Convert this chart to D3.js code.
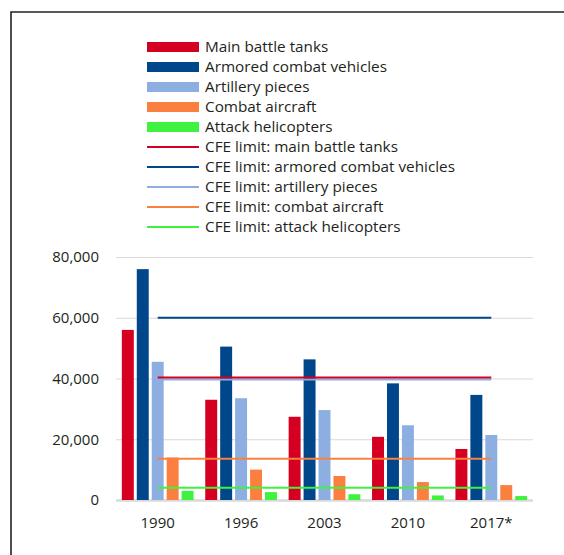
<!DOCTYPE html>
<html>
<head>
<meta charset="utf-8">
<script src="https://cdn.jsdelivr.net/npm/d3@7"></script>
<style>
  body { margin: 0; background: #fff; }
  text { font-family: "Open Sans", "Noto Sans", sans-serif; fill: #231f20; }
</style>
</head>
<body>
<div id="chart"></div>
<script>
  const years = ['1990', '1996', '2003', '2010', '2017*'];
  const seriesNames = ['Main battle tanks', 'Armored combat vehicles', 'Artillery pieces', 'Combat aircraft', 'Attack helicopters'];
  const seriesColors = ['#d50021', '#00468a', '#8daee1', '#fb8040', '#3ff23f'];

  const tanks = [56000, 33000, 27400, 20800, 16800];
  const armored = [76000, 50500, 46300, 38400, 34600];
  const artillery = [45500, 33500, 29600, 24600, 21400];
  const aircraft = [14000, 10000, 7900, 5900, 4900];
  const helicopters = [3000, 2600, 1900, 1500, 1300];

  const limitNames = ['CFE limit: main battle tanks', 'CFE limit: armored combat vehicles', 'CFE limit: artillery pieces', 'CFE limit: combat aircraft', 'CFE limit: attack helicopters'];
  const limitValues = [40000, 60000, 40000, 13600, 4000];

  const yTicks = [0, 20000, 40000, 60000, 80000];

  const w = 564;
  const h = 555;
  const plotLeft = 116, plotRight = 533, plotTop = 257, plotBottom = 500;

  const values = [tanks, armored, artillery, aircraft, helicopters];

  const svg = d3.select('#chart')
    .append('svg')
      .attr('width', w)
      .attr('height', h);

  // frame (only top and left edges fall inside the picture)
  svg.append('path')
    .attr('d', `M 11 ${h} V 12 H ${w}`)
    .style('fill', 'none')
    .style('stroke', '#222')
    .style('stroke-width', 1.6);

  const x0 = d3.scaleBand().domain(years).range([plotLeft, plotRight]).paddingInner(0.14).paddingOuter(0.07);
  const x1 = d3.scaleBand().domain(d3.range(seriesNames.length)).range([0, x0.bandwidth()]).paddingInner(0.2);
  const y = d3.scaleLinear().domain([0, 80000]).range([plotBottom, plotTop]);

  // gridlines + y labels
  const yAxis = svg.append('g')
    .attr('transform', `translate(${plotLeft},0)`)
    .call(d3.axisLeft(y).tickValues(yTicks).tickFormat(d3.format(',')).tickSizeInner(-(plotRight - plotLeft)).tickSizeOuter(0).tickPadding(17));
  yAxis.select('.domain').remove();
  yAxis.selectAll('line')
    .style('stroke', '#d9d9d9')
    .style('stroke-width', d => d === 0 ? 2.5 : 1);
  yAxis.selectAll('text')
    .style('font-size', '15px')
    .style('fill', '#231f20');

  // bars
  const groups = svg.append('g').selectAll('g')
    .data(years)
    .enter().append('g')
      .attr('transform', d => `translate(${x0(d)},0)`);

  groups.selectAll('rect')
    .data((d, i) => values.map((s, k) => ({ k: k, v: s[i] })))
    .enter().append('rect')
      .attr('x', d => x1(d.k))
      .attr('y', d => y(d.v))
      .attr('width', x1.bandwidth())
      .attr('height', d => y(0) - y(d.v))
      .style('fill', d => seriesColors[d.k]);

  // CFE limit lines, first to last category centre
  const lineX1 = x0(years[0]) + x0.bandwidth() / 2;
  const lineX2 = x0(years[years.length - 1]) + x0.bandwidth() / 2;
  const nudge = [-1, 0, 1, 0, 0]; // tanks and artillery share 40,000
  const drawOrder = [2, 0, 1, 3, 4];
  svg.append('g').selectAll('line')
    .data(drawOrder)
    .enter().append('line')
      .attr('x1', lineX1)
      .attr('x2', lineX2)
      .attr('y1', k => y(limitValues[k]) + nudge[k])
      .attr('y2', k => y(limitValues[k]) + nudge[k])
      .style('stroke', k => seriesColors[k])
      .style('stroke-width', 2);

  // x labels
  const xAxis = svg.append('g')
    .attr('transform', `translate(0,${plotBottom})`)
    .call(d3.axisBottom(x0).tickSize(0).tickPadding(17));
  xAxis.select('.domain').remove();
  xAxis.selectAll('text')
    .style('font-size', '15px')
    .style('fill', '#231f20');

  // legend
  const legendX = 147, legendY = 47, rowStep = 20, swatchW = 52;
  const legend = svg.append('g');
  const barItems = legend.selectAll('g.bar-item')
    .data(seriesNames)
    .enter().append('g')
      .attr('class', 'bar-item')
      .attr('transform', (d, i) => `translate(${legendX},${legendY + i * rowStep})`);
  barItems.append('rect')
    .attr('y', -5)
    .attr('width', swatchW)
    .attr('height', 10)
    .style('fill', (d, i) => seriesColors[i]);
  barItems.append('text')
    .attr('x', swatchW + 6)
    .attr('dy', '0.35em')
    .style('font-size', '15.3px')
    .text(d => d);

  const lineItems = legend.selectAll('g.line-item')
    .data(limitNames)
    .enter().append('g')
      .attr('class', 'line-item')
      .attr('transform', (d, i) => `translate(${legendX},${legendY + (i + seriesNames.length) * rowStep})`);
  lineItems.append('line')
    .attr('x2', swatchW)
    .style('stroke', (d, i) => seriesColors[i])
    .style('stroke-width', 2);
  lineItems.append('text')
    .attr('x', swatchW + 6)
    .attr('dy', '0.35em')
    .style('font-size', '15.3px')
    .text(d => d);
</script>
</body>
</html>
